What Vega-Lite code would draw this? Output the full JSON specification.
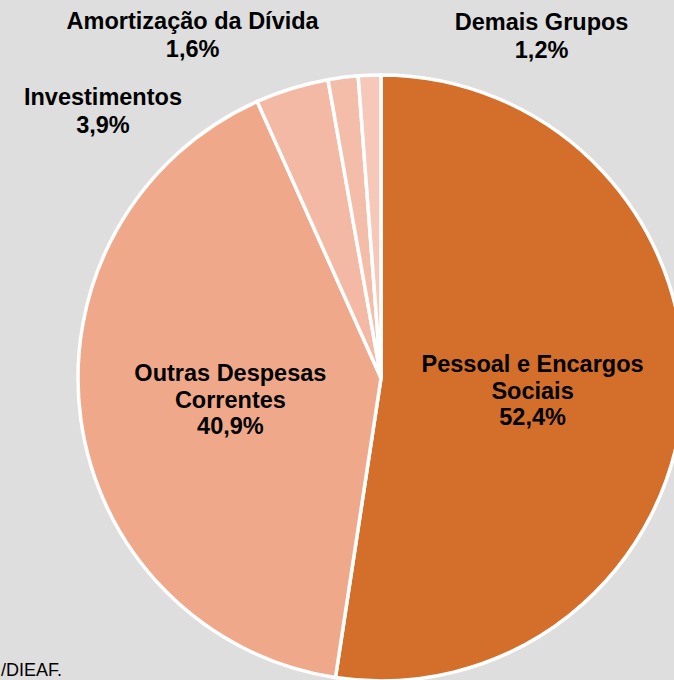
{
  "$schema": "https://vega.github.io/schema/vega-lite/v6.json",
  "width": 586,
  "height": 586,
  "autosize": {"type": "none"},
  "padding": {"left": 88, "top": 85, "right": 0, "bottom": 9},
  "background": "#dedede",
  "config": {"view": {"stroke": null}, "text": {"font": "Liberation Sans"}},
  "title": {"text": "/DIEAF.", "orient": "bottom", "anchor": "start", "frame": "group", "dx": -87, "dy": -8, "offset": -4, "baseline": "alphabetic", "fontSize": 18, "fontWeight": "normal", "font": "Liberation Sans", "color": "black"},
  "data": {"values": [
    {"ordem": 1, "grupo": "Pessoal e Encargos Sociais", "valor": 52.4, "rotulo": ["Pessoal e Encargos", "Sociais", "52,4%"]},
    {"ordem": 2, "grupo": "Outras Despesas Correntes", "valor": 40.9, "rotulo": ["Outras Despesas", "Correntes", "40,9%"]},
    {"ordem": 3, "grupo": "Investimentos", "valor": 3.9, "rotulo": ["Investimentos", "3,9%"]},
    {"ordem": 4, "grupo": "Amortização da Dívida", "valor": 1.6, "rotulo": ["Amortização da Dívida", "1,6%"]},
    {"ordem": 5, "grupo": "Demais Grupos", "valor": 1.2, "rotulo": ["Demais Grupos", "1,2%"]}
  ]},
  "encoding": {
    "theta": {"field": "valor", "type": "quantitative", "stack": true},
    "order": {"field": "ordem", "type": "quantitative"}
  },
  "layer": [
    {
      "mark": {"type": "arc", "outerRadius": 303, "stroke": "white", "strokeWidth": 3.5},
      "encoding": {
        "color": {"field": "grupo", "type": "nominal", "legend": null,
          "scale": {"domain": ["Pessoal e Encargos Sociais", "Outras Despesas Correntes", "Investimentos", "Amortização da Dívida", "Demais Grupos"],
                    "range": ["#d36e2b", "#f0a88a", "#f3b9a4", "#f4bda9", "#f5c8b9"]}}
      }
    },
    {
      "mark": {"type": "text", "radius": 152, "fontSize": 23.5, "fontWeight": "bold", "lineHeight": 26.5, "dy": -24, "baseline": "middle", "color": "black"},
      "encoding": {"text": {"field": "rotulo", "type": "nominal"},
        "opacity": {"condition": {"test": "datum.ordem <= 2", "value": 1}, "value": 0}}
    },
    {
      "mark": {"type": "text", "radius": 330, "fontSize": 23.5, "fontWeight": "bold", "lineHeight": 28, "dx": -181, "dy": 35.5, "baseline": "middle", "color": "black"},
      "encoding": {"text": {"field": "rotulo", "type": "nominal"},
        "opacity": {"condition": {"test": "datum.ordem === 3", "value": 1}, "value": 0}}
    },
    {
      "mark": {"type": "text", "radius": 330, "fontSize": 23.5, "fontWeight": "bold", "lineHeight": 27.5, "dx": -147, "dy": -28.5, "baseline": "middle", "color": "black"},
      "encoding": {"text": {"field": "rotulo", "type": "nominal"},
        "opacity": {"condition": {"test": "datum.ordem === 4", "value": 1}, "value": 0}}
    },
    {
      "mark": {"type": "text", "radius": 330, "fontSize": 23.5, "fontWeight": "bold", "lineHeight": 27.5, "dx": 173, "dy": -25, "baseline": "middle", "color": "black"},
      "encoding": {"text": {"field": "rotulo", "type": "nominal"},
        "opacity": {"condition": {"test": "datum.ordem === 5", "value": 1}, "value": 0}}
    }
  ]
}
